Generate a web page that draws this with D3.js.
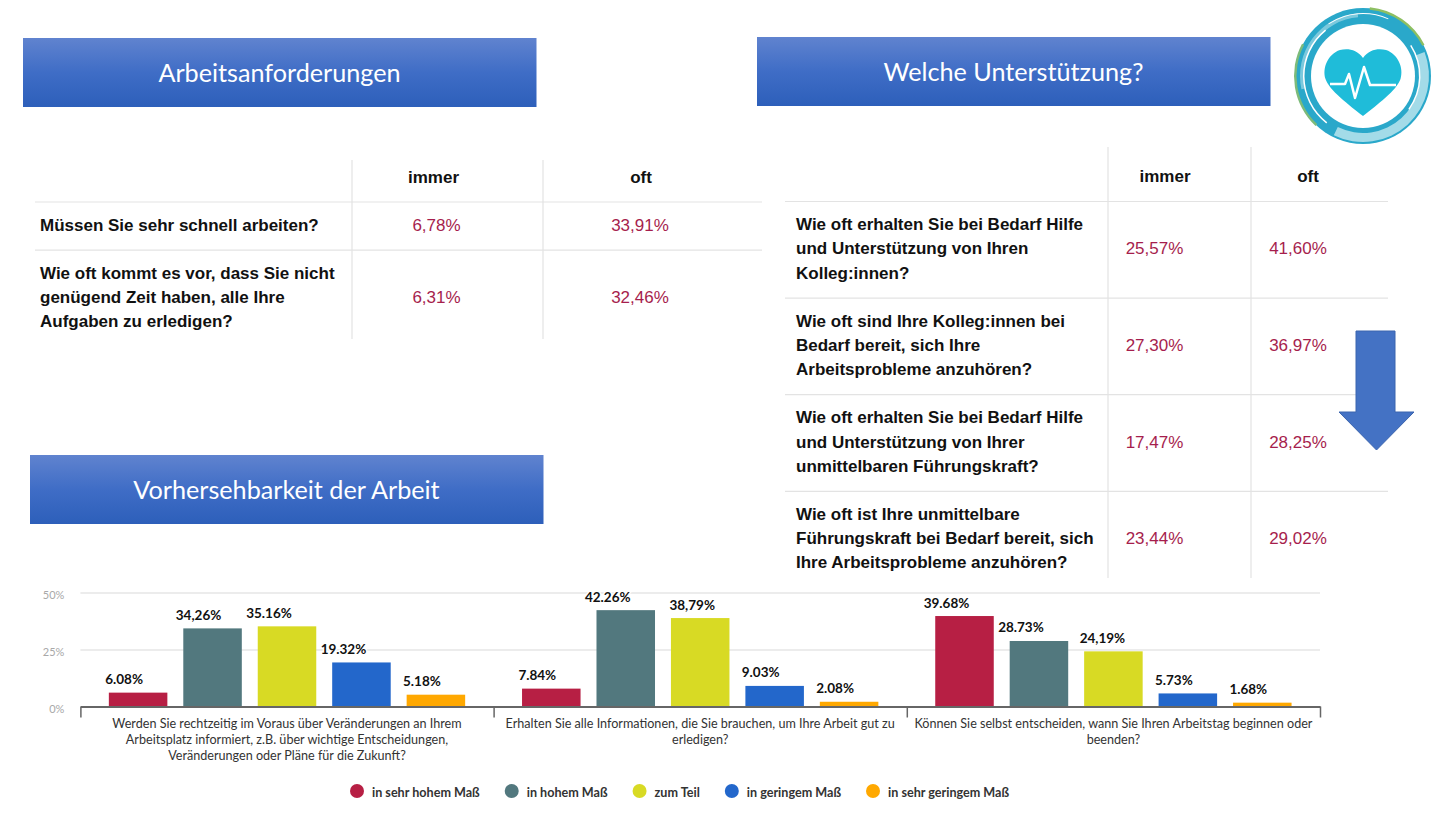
<!DOCTYPE html>
<html>
<head>
<meta charset="utf-8">
<script src="https://cdn.jsdelivr.net/npm/d3@7"></script>
<style>
  body { margin: 0; background: #fff; }
  svg { display: block; }
</style>
</head>
<body>
<div class="chart"></div>
<script>
// bar chart data
const groups = [
    ["Werden Sie rechtzeitig im Voraus über Veränderungen an Ihrem", "Arbeitsplatz informiert, z.B. über wichtige Entscheidungen,", "Veränderungen oder Pläne für die Zukunft?"],
    ["Erhalten Sie alle Informationen, die Sie brauchen, um Ihre Arbeit gut zu", "erledigen?"],
    ["Können Sie selbst entscheiden, wann Sie Ihren Arbeitstag beginnen oder", "beenden?"]
];
const answers = ["in sehr hohem Maß", "in hohem Maß", "zum Teil", "in geringem Maß", "in sehr geringem Maß"];
const colors = ["#b71f44", "#52787e", "#d8da24", "#2367cb", "#ffa800"];
const values = [
    [6.08, 34.26, 35.16, 19.32, 5.18],
    [7.84, 42.26, 38.79, 9.03, 2.08],
    [39.68, 28.73, 24.19, 5.73, 1.68]
];
const valueLabels = [
    ["6.08%", "34,26%", "35.16%", "19.32%", "5.18%"],
    ["7.84%", "42.26%", "38,79%", "9.03%", "2.08%"],
    ["39.68%", "28.73%", "24,19%", "5.73%", "1.68%"]
];
const yTicks = [0, 25, 50];

// tables
const demandQuestions = [
    ["Müssen Sie sehr schnell arbeiten?"],
    ["Wie oft kommt es vor, dass Sie nicht", "genügend Zeit haben, alle Ihre", "Aufgaben zu erledigen?"]
];
const demandImmer = ["6,78%", "6,31%"];
const demandOft = ["33,91%", "32,46%"];

const supportQuestions = [
    ["Wie oft erhalten Sie bei Bedarf Hilfe", "und Unterstützung von Ihren", "Kolleg:innen?"],
    ["Wie oft sind Ihre Kolleg:innen bei", "Bedarf bereit, sich Ihre", "Arbeitsprobleme anzuhören?"],
    ["Wie oft erhalten Sie bei Bedarf Hilfe", "und Unterstützung von Ihrer", "unmittelbaren Führungskraft?"],
    ["Wie oft ist Ihre unmittelbare", "Führungskraft bei Bedarf bereit, sich", "Ihre Arbeitsprobleme anzuhören?"]
];
const supportImmer = ["25,57%", "27,30%", "17,47%", "23,44%"];
const supportOft = ["41,60%", "36,97%", "28,25%", "29,02%"];

const svg = d3.select(".chart").append("svg")
    .attr("width", 1450)
    .attr("height", 816);

const defs = svg.append("defs");
const grad = defs.append("linearGradient")
    .attr("id", "bannerFill")
    .attr("x1", 0).attr("x2", 0).attr("y1", 0).attr("y2", 1);
grad.append("stop").attr("offset", "0%").attr("stop-color", "#6083cf");
grad.append("stop").attr("offset", "50%").attr("stop-color", "#3f6dc6");
grad.append("stop").attr("offset", "100%").attr("stop-color", "#2d5fba");

function banner(x, y, label) {
    svg.append("rect")
        .attr("x", x).attr("y", y)
        .attr("width", 513.5).attr("height", 69)
        .attr("fill", "url(#bannerFill)");
    svg.append("text")
        .attr("x", x + 256.5).attr("y", y + 44)
        .attr("text-anchor", "middle")
        .attr("fill", "#fff")
        .style("font", "25.2px Lato")
        .text(label);
}
banner(23, 38, "Arbeitsanforderungen");
banner(757, 37, "Welche Unterstützung?");
banner(30, 455, "Vorhersehbarkeit der Arbeit");

function drawTable(t) {
    const g = svg.append("g");
    const lineH = 24.2, pad = 24;
    let y = t.top;
    const lines = [t.top];
    t.questions.forEach((q, i) => {
        const h = q.length * lineH + pad;
        const mid = y + h / 2;
        q.forEach((line, j) => {
            g.append("text")
                .attr("x", t.textX)
                .attr("y", mid + (j - (q.length - 1) / 2) * lineH + 4.5)
                .attr("fill", "#111")
                .style("font", "bold 17px 'Liberation Sans'")
                .text(line);
        });
        [[t.immer, t.valueX[0]], [t.oft, t.valueX[1]]].forEach(([col, x]) => {
            g.append("text")
                .attr("x", x).attr("y", mid + 4.5)
                .attr("text-anchor", "middle")
                .attr("fill", "#a61e4d")
                .style("font", "17px 'Liberation Sans'")
                .text(col[i]);
        });
        y += h;
        lines.push(y);
    });
    lines.slice(0, -1).forEach(ly => {
        g.append("line")
            .attr("x1", t.x0).attr("x2", t.x1)
            .attr("y1", ly).attr("y2", ly)
            .attr("stroke", "#e3e3e3").attr("stroke-width", 1.2);
    });
    t.vLines.forEach(vx => {
        g.append("line")
            .attr("x1", vx).attr("x2", vx)
            .attr("y1", t.vTop).attr("y2", t.vBottom)
            .attr("stroke", "#e3e3e3").attr("stroke-width", 1.2);
    });
    ["immer", "oft"].forEach((h, i) => {
        g.append("text")
            .attr("x", t.headX[i]).attr("y", t.headY)
            .attr("text-anchor", "middle")
            .attr("fill", "#111")
            .style("font", "bold 17px 'Liberation Sans'")
            .text(h);
    });
}

drawTable({
    questions: demandQuestions, immer: demandImmer, oft: demandOft,
    top: 202, x0: 35, x1: 762, textX: 40,
    vLines: [352, 543], vTop: 160, vBottom: 339,
    valueX: [436.5, 640], headX: [433.5, 641], headY: 183
});
drawTable({
    questions: supportQuestions, immer: supportImmer, oft: supportOft,
    top: 201.5, x0: 785, x1: 1388, textX: 796,
    vLines: [1108, 1251], vTop: 147, vBottom: 578,
    valueX: [1154.5, 1298], headX: [1165, 1308], headY: 182
});

// arrow next to the second table
svg.append("path")
    .attr("d", "M1356,331H1395V412H1414L1376.5,450L1339,412H1356Z")
    .attr("fill", "#4472c4")
    .attr("stroke", "#3a64ae");

// logo
const logo = svg.append("g").attr("transform", "translate(1363,76)");
const ringArc = d3.arc();
function ring(r0, r1, a0, a1, fill) {
    logo.append("path")
        .attr("d", ringArc({innerRadius: r0, outerRadius: r1, startAngle: a0, endAngle: a1}))
        .attr("fill", fill);
}
logo.append("circle").attr("r", 68).attr("fill", "#2aa8ca");
ring(66.5, 69, 0.1, 1.1, "#8dbf62");
ring(66.5, 69, 3.9, 5.2, "#7dbb7a");
ring(57, 66, 1.2, 3.6, "#a3dbe8");
ring(59, 63, 4.5, 6.2, "#7cc9dd");
ring(58.5, 60, 3.8, 5.6, "#fff");
ring(62, 63, 5.7, 6.7, "#fff");
ring(56, 57.5, 1, 2.2, "#fff");
logo.append("circle").attr("r", 52).attr("fill", "#fff");
logo.append("path")
    .attr("d", "M0,-18C6,-27 16,-28 23,-26C35,-22 41,-8 37.5,3C34,14 14,29 0,40C-14,29 -34,14 -37.5,3C-41,-8 -35,-22 -23,-26C-16,-28 -6,-27 0,-18Z")
    .attr("fill", "#1fbcd9");
logo.append("path")
    .attr("d", "M-33,8H-18L-14,-2L-8,22L1,-9L7,9H33")
    .attr("fill", "none")
    .attr("stroke", "#fff")
    .attr("stroke-width", 2.5)
    .attr("stroke-linejoin", "round");

// bar chart
const x0 = 80.4, x1 = 1320, yBase = 706.5, yTop = 592.5;

const y = d3.scaleLinear().domain([0, 50]).range([yBase, yTop]);
const groupX = d3.scaleBand().domain(d3.range(groups.length)).range([x0, x1]);
const barX = d3.scaleBand()
    .domain(d3.range(answers.length))
    .range([0, groupX.bandwidth()])
    .paddingInner(0.214)
    .paddingOuter(0.382);
const tickX = d3.scaleLinear().domain([0, groups.length]).range([x0, x1]);

const yAxis = svg.append("g")
    .attr("transform", "translate(" + x0 + ",0)")
    .call(d3.axisLeft(y).tickValues(yTicks).tickSize(-(x1 - x0)).tickPadding(16).tickFormat(d => d + "%"));
yAxis.select(".domain").remove();
yAxis.selectAll("line").attr("stroke", "#e6e6e6").attr("stroke-width", 1.5);
yAxis.selectAll("text").attr("fill", "#a8a8a8").attr("dy", "0.55em").style("font", "11px Lato");

const group = svg.selectAll(".group")
    .data(values)
    .join("g")
    .attr("class", "group")
    .attr("transform", (d, i) => "translate(" + groupX(i) + ",0)");

group.selectAll("rect")
    .data(d => d)
    .join("rect")
    .attr("x", (d, i) => barX(i))
    .attr("y", d => y(d))
    .attr("width", barX.bandwidth())
    .attr("height", d => yBase - y(d))
    .attr("fill", (d, i) => colors[i]);

const xAxis = svg.append("g")
    .attr("transform", "translate(0," + yBase + ")")
    .call(d3.axisBottom(tickX).tickValues(d3.range(groups.length + 1)).tickSize(11).tickSizeOuter(0).tickFormat(""));
xAxis.select(".domain").attr("stroke", "#666").attr("stroke-width", 2);
xAxis.selectAll("line").attr("stroke", "#666").attr("stroke-width", 1.5);

// value labels sit left of the bar centre, by these offsets
const labelShift = [
    [-14, -14, -18, -18, -14],
    [-14, -18, -8, -14, -14],
    [-18, -18, -11, -14, -14]
];
values.forEach((row, i) => {
    row.forEach((v, j) => {
        svg.append("text")
            .attr("x", groupX(i) + barX(j) + barX.bandwidth() / 2 + labelShift[i][j])
            .attr("y", y(v) - 8.5)
            .attr("text-anchor", "middle")
            .attr("fill", "#111")
            .attr("stroke", "#fff")
            .attr("stroke-width", 3)
            .attr("paint-order", "stroke")
            .style("font", "bold 13.5px Lato")
            .text(valueLabels[i][j]);
    });
});

// category labels
groups.forEach((lines, i) => {
    lines.forEach((line, j) => {
        svg.append("text")
            .attr("x", groupX(i) + groupX.bandwidth() / 2)
            .attr("y", 727.5 + j * 16.4)
            .attr("text-anchor", "middle")
            .attr("fill", "#333")
            .style("font", "12.6px Lato")
            .text(line);
    });
});

// legend
let legendX = 357;
answers.forEach((a, i) => {
    svg.append("circle")
        .attr("cx", legendX).attr("cy", 791)
        .attr("r", 7)
        .attr("fill", colors[i]);
    const label = svg.append("text")
        .attr("x", legendX + 15).attr("y", 796.5)
        .attr("fill", "#333")
        .style("font", "bold 12.6px Lato")
        .text(a);
    legendX += 15 + label.node().getComputedTextLength() + 32;
});
</script>
</body>
</html>
